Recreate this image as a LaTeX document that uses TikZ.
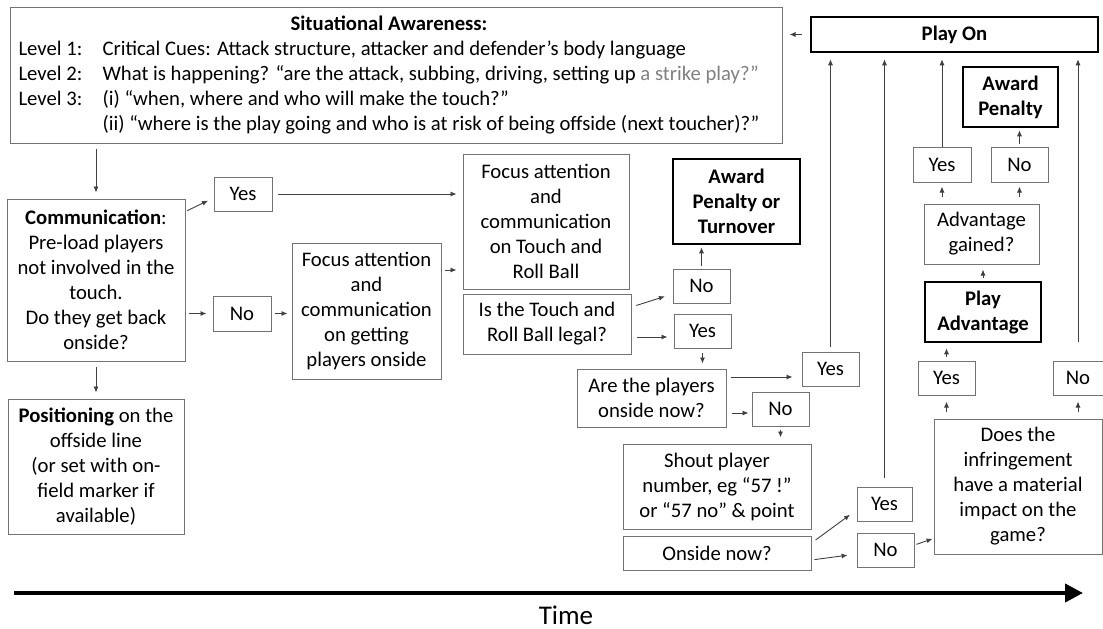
\documentclass[tikz,border=0pt]{standalone}
\usepackage{fontspec}
\setmainfont{Carlito}
\usepackage{tikz}
\usetikzlibrary{arrows.meta}
\newcommand{\fonte}{\fontsize{20.7}{25}\selectfont}

\begin{document}
\begin{tikzpicture}[
	x=1pt, y=-1pt,
	caixa/.style={draw=black!55, line width=1pt, align=center, inner sep=0pt, font=\fonte},
	forte/.style={caixa, draw=black, line width=2.5pt, font=\fonte\bfseries},
	tam/.style 2 args={minimum width=#1pt, minimum height=#2pt},
	seta/.style={draw=black!75, line width=0.9pt, -{Latex[length=6pt,width=5pt]}, shorten <=5pt, shorten >=6pt},
	curta/.style={seta, shorten <=3pt, shorten >=6pt},
	eixo/.style={line width=4pt, -{Triangle[length=18pt,width=18pt]}}
	]
	\useasboundingbox (0,0) rectangle (1103,629);

	% situational awareness
	\node[caixa, tam={772}{136}] (aware) at (396,75) {%
		\begin{tabular}{@{}l@{}l@{}}
			\multicolumn{2}{c}{\textbf{Situational Awareness:}}\\
			\makebox[84pt][l]{Level 1:} & Critical Cues: Attack structure, attacker and defender’s body language\\
			Level 2: & What is happening? “are the attack, subbing, driving, setting up \textcolor{black!50}{a strike play?”}\\
			Level 3: & (i) “when, where and who will make the touch?”\\
			 & (ii) “where is the play going and who is at risk of being offside (next toucher)?”
		\end{tabular}\hspace*{14pt}};
	\node[forte, tam={287}{35}] (playon) at (954.5,34.5) {Play On};

	% left column
	\node[caixa, tam={178}{162}] (comm) at (96,280) {\textbf{Communication}:\\Pre-load players\\not involved in the\\touch.\\Do they get back\\onside?};
	\node[caixa, tam={176}{135}] (pos) at (96,466.5) {\textbf{Positioning} on the\\offside line\\(or set with on-\\field marker if\\available)};
	\node[caixa, tam={58}{34}] (yesA) at (243,194) {Yes};
	\node[caixa, tam={58}{35}] (noA) at (242,313.5) {No};
	\node[caixa, tam={149}{136}] (focus2) at (366.5,311) {Focus attention\\and\\communication\\on getting\\players onside};
	\node[caixa, tam={166}{135}] (focus1) at (546,221.5) {Focus attention\\and\\communication\\on Touch and\\Roll Ball};

	% touch and roll ball
	\node[caixa, tam={168}{60}] (legal) at (547,324) {Is the Touch and\\Roll Ball legal?};
	\node[forte, tam={127}{85}] (awardT) at (736.5,201.5) {Award\\Penalty or\\Turnover};
	\node[caixa, tam={57}{34}] (noB) at (701.5,286) {No};
	\node[caixa, tam={57}{34}] (yesB) at (702.5,331) {Yes};
	\node[caixa, tam={149}{58}] (are) at (651.5,398) {Are the players\\onside now?};
	\node[caixa, tam={57}{34}] (yesC) at (830.5,369) {Yes};
	\node[caixa, tam={57}{34}] (noC) at (780.5,409) {No};
	\node[caixa, tam={188}{85}] (shout) at (717,486.5) {Shout player\\number, eg “57 !”\\or “57 no” \& point};
	\node[caixa, tam={188}{34}] (onside) at (717,553) {Onside now?};
	\node[caixa, tam={55}{34}] (yesD) at (884.5,504) {Yes};
	\node[caixa, tam={57}{34}] (noD) at (885.5,550) {No};

	% advantage
	\node[caixa, tam={168}{135}] (does) at (1018,486.5) {Does the\\infringement\\have a material\\impact on the\\game?};
	\node[caixa, tam={57}{34}] (yesE) at (946.5,378) {Yes};
	\node[caixa, tam={50}{34}] (noE) at (1078,378) {No};
	\node[forte, tam={116}{60}] (playadv) at (983,312) {Play\\Advantage};
	\node[caixa, tam={115}{60}] (advg) at (981.5,234) {Advantage\\gained?};
	\node[caixa, tam={58}{35}] (yesF) at (942,164.5) {Yes};
	\node[caixa, tam={57}{35}] (noF) at (1019.5,164.5) {No};
	\node[forte, tam={95}{60}] (awardP) at (1010.5,97) {Award\\Penalty};

	% connectors
	\draw[seta] (comm.north |- aware.south) -- (comm.north);
	\draw[seta, shorten <=8pt, shorten >=7pt] (playon.west) -- (playon.west -| aware.east);
	\draw[seta, shorten <=2pt] ([yshift=-13pt]comm.north east) -- ([yshift=-4pt]yesA.west);
	\draw[seta] (yesA.east) -- (yesA.east -| focus1.west);
	\draw[seta, shorten <=3pt] (comm.east |- noA) -- (noA.west);
	\draw[curta, shorten >=4pt] (noA.east) -- (noA.east -| focus2.west);
	\draw[curta] ([yshift=41pt]focus2.east) -- ([yshift=41pt]focus2.east -| focus1.west);
	\draw[seta] (comm) -- (pos);
	\draw[seta, shorten >=8pt] ([yshift=17pt]legal.east) -- ([yshift=-8pt]noB.west);
	\draw[seta] ([yshift=-13pt]legal.east) -- ([yshift=-13pt]legal.east -| yesB.west);
	\draw[curta, shorten >=2pt] (noB.north) -- (noB.north |- awardT.south);
	\draw[curta, shorten <=4pt, shorten >=5pt] (yesB.south) -- (yesB.south |- are.north);
	\draw[seta, shorten <=4pt, shorten >=9pt] ([yshift=21pt]are.east) -- ([yshift=21pt]are.east -| yesC.west);
	\draw[curta, shorten <=5pt, shorten >=3pt] ([yshift=-15pt]are.east) -- ([yshift=-15pt]are.east -| noC.west);
	\draw[curta, shorten >=6pt] (noC.south) -- (noC.south |- shout.north);
	\draw[seta, shorten >=8pt] ([yshift=10pt]onside.east) -- ([yshift=-6pt]yesD.west);
	\draw[seta, shorten <=3pt, shorten >=9pt] ([yshift=-7pt]onside.east) -- ([yshift=-4pt]noD.west);
	\draw[seta, shorten <=2pt, shorten >=1pt] ([yshift=5pt]noD.east) -- ([yshift=-52pt]does.west);
	\draw[curta, shorten <=7pt, shorten >=6pt] (yesE.south |- does.north) -- (yesE.south);
	\draw[curta, shorten <=7pt, shorten >=6pt] (noE.south |- does.north) -- (noE.south);
	\draw[curta, shorten <=4pt, shorten >=5pt] (yesE.north) -- (yesE.north |- playadv.south);
	\draw[curta, shorten <=3pt, shorten >=5pt] (playadv.north) -- (playadv.north |- advg.south);
	\draw[curta, shorten <=7pt, shorten >=4pt] (yesF.south |- advg.north) -- (yesF.south);
	\draw[curta, shorten <=7pt, shorten >=4pt] (noF.south |- advg.north) -- (noF.south);
	\draw[curta, shorten >=2pt] (noF.north) -- (noF.north |- awardP.south);
	\draw[seta, shorten <=0pt] (yesF.north) -- (yesF.north |- playon.south);
	\draw[seta] (yesC.north) -- (yesC.north |- playon.south);
	\draw[seta, shorten <=9pt] (yesD.north) -- (yesD.north |- playon.south);
	\draw[seta, shorten <=19pt] (noE.north) -- (noE.north |- playon.south);

	% time axis
	\coordinate (t0) at (14,593);
	\coordinate (t1) at (1083,593);
	\draw[eixo] (t0) -- (t1);
	\node[font=\fontsize{27}{30}\selectfont] (tempo) at (566,615) {Time};
\end{tikzpicture}
\end{document}
